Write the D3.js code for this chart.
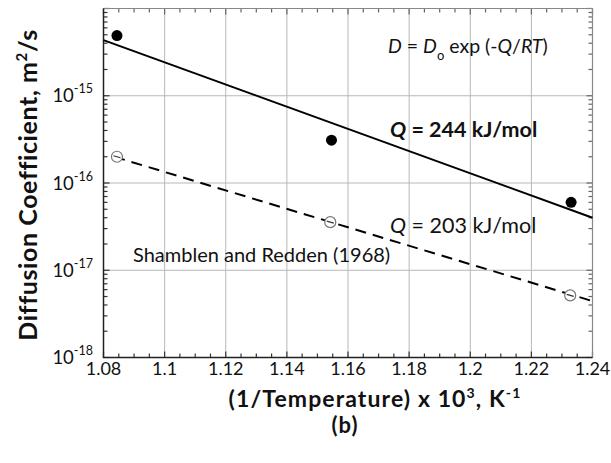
<!DOCTYPE html>
<html><head><meta charset="utf-8">
<script src="https://cdn.jsdelivr.net/npm/d3@7"></script>
<style>
body{margin:0;background:#fff;}
text{font-family:Lato,"Open Sans",sans-serif;fill:#111;}
</style></head>
<body><svg id="c" width="611" height="463"></svg>
<script>
// Data
const presentX = [1.0844, 1.1546, 1.2330];
const presentD = [4.9e-15, 3.1e-16, 6.0e-17];
const shamblenX = [1.0844, 1.1542, 1.2327];
const shamblenD = [2.0e-16, 3.56e-17, 5.15e-18];
const fitSolidX = [1.08, 1.24];
const fitSolidD = [4.34e-15, 4.0e-17];
const fitDashX = [1.0835, 1.24];
const fitDashD = [2.0e-16, 4.43e-18];
const xTicks = [1.08, 1.10, 1.12, 1.14, 1.16, 1.18, 1.20, 1.22, 1.24];
const xTickLabels = ["1.08","1.1","1.12","1.14","1.16","1.18","1.2","1.22","1.24"];
const yTicks = [1e-18, 1e-17, 1e-16, 1e-15, 1e-14];
const yTickExp = ["-18","-17","-16","-15"];

const svg = d3.select("#c");
const L=103.5, R=592.5, T=8.5, B=357.5;
const x = d3.scaleLinear().domain([1.08,1.24]).range([L,R]);
const y = d3.scaleLog().domain([1e-18,1e-14]).range([B,T]);

// grid
const g = svg.append("g");
g.selectAll(".gx").data(xTicks.slice(1,-1)).join("line")
  .attr("x1",d=>x(d)).attr("x2",d=>x(d)).attr("y1",T).attr("y2",B)
  .attr("stroke","#b8b8b8").attr("stroke-width",1);
g.selectAll(".gy").data(yTicks.slice(1,-1)).join("line")
  .attr("y1",d=>y(d)).attr("y2",d=>y(d)).attr("x1",L).attr("x2",R)
  .attr("stroke","#b8b8b8").attr("stroke-width",1);

// minor ticks
const xMinor = d3.range(0,33).map(i=>1.08+i*0.005);
const yMinor = [];
for (let e=-18;e<-14;e++) for (let m=2;m<=9;m++) yMinor.push(m*Math.pow(10,e));
function tickLine(sel, x1,y1,x2,y2,col){ sel.append("line").attr("x1",x1).attr("y1",y1).attr("x2",x2).attr("y2",y2).attr("stroke",col).attr("stroke-width",1.2);}
xMinor.forEach((v,i)=>{
  const len = (i%4===0)?6:4;
  tickLine(svg, x(v),B,x(v),B-len,"#333");
  tickLine(svg, x(v),T,x(v),T+len,"#666");
});
yMinor.forEach(v=>{
  tickLine(svg, L,y(v),L+4,y(v),"#333");
  tickLine(svg, R,y(v),R-4,y(v),"#666");
});
yTicks.forEach(v=>{
  tickLine(svg, L,y(v),L+6,y(v),"#333");
  tickLine(svg, R,y(v),R-6,y(v),"#666");
});

// frame
svg.append("line").attr("x1",L).attr("x2",R).attr("y1",T).attr("y2",T).attr("stroke","#888").attr("stroke-width",1.2);
svg.append("line").attr("x1",R).attr("x2",R).attr("y1",T).attr("y2",B).attr("stroke","#888").attr("stroke-width",1.2);
svg.append("line").attr("x1",L).attr("x2",L).attr("y1",T).attr("y2",B+0.6).attr("stroke","#222").attr("stroke-width",1.5);
svg.append("line").attr("x1",L-0.6).attr("x2",R).attr("y1",B).attr("y2",B).attr("stroke","#222").attr("stroke-width",1.5);

// lines
const line = d3.line().x(d=>x(d[0])).y(d=>y(d[1]));
svg.append("path").attr("d",line(fitSolidX.map((v,i)=>[v,fitSolidD[i]])))
  .attr("fill","none").attr("stroke","#000").attr("stroke-width",2);
svg.append("path").attr("d",line(fitDashX.map((v,i)=>[v,fitDashD[i]])))
  .attr("fill","none").attr("stroke","#000").attr("stroke-width",2).attr("stroke-dasharray","11,7");

// points
svg.selectAll(".pf").data(presentX).join("circle")
  .attr("cx",d=>x(d)).attr("cy",(d,i)=>y(presentD[i])).attr("r",5.5).attr("fill","#000");
svg.selectAll(".po").data(shamblenX).join("circle")
  .attr("cx",d=>x(d)).attr("cy",(d,i)=>y(shamblenD[i])).attr("r",5.5).attr("fill","#fff").attr("stroke","#777").attr("stroke-width",1.2);
svg.selectAll(".pc").data(shamblenX).join("line")
  .attr("x1",d=>x(d)-3.5).attr("x2",d=>x(d)+3.5)
  .attr("y1",(d,i)=>y(shamblenD[i])-1).attr("y2",(d,i)=>y(shamblenD[i])+1)
  .attr("stroke","#333").attr("stroke-width",1.2);

// x tick labels
svg.selectAll(".xl").data(xTicks).join("text")
  .attr("x",d=>x(d)).attr("y",375).attr("text-anchor","middle")
  .attr("font-size",18).text((d,i)=>xTickLabels[i]);

// y tick labels
yTicks.slice(0,4).forEach((v,i)=>{
  const t = svg.append("text").attr("x",93).attr("y",y(v)+6.5).attr("text-anchor","end").attr("font-size",18.5);
  t.append("tspan").text("10");
  t.append("tspan").attr("font-size",12.5).attr("dy",-9).text(yTickExp[i]);
});

// axis titles
const xt = svg.append("text").attr("x",375).attr("y",407).attr("text-anchor","middle").attr("font-size",23).attr("font-weight","bold").attr("letter-spacing",1.1);
xt.append("tspan").text("(1/Temperature) x 10");
xt.append("tspan").attr("font-size",14).attr("dy",-9).text("3");
xt.append("tspan").attr("dy",9).text(", K");
xt.append("tspan").attr("font-size",14).attr("dy",-9).text("-1");
svg.append("text").attr("x",345).attr("y",433).attr("text-anchor","middle").attr("font-size",22).attr("font-weight","bold").attr("letter-spacing",1).text("(b)");

const yt = svg.append("text").attr("transform","translate(37,185) rotate(-90)").attr("text-anchor","middle").attr("font-size",25).attr("font-weight","bold").attr("letter-spacing",0.6);
yt.append("tspan").text("Diffusion Coefficient, m");
yt.append("tspan").attr("font-size",15).attr("dy",-10).text("2");
yt.append("tspan").attr("dy",10).text("/s");

// annotations
const eq = svg.append("text").attr("x",388).attr("y",53).attr("font-size",19.5);
eq.append("tspan").attr("font-style","italic").text("D");
eq.append("tspan").text(" = ");
eq.append("tspan").attr("font-style","italic").text("D");
eq.append("tspan").attr("font-size",13).attr("dy",7).text("o");
eq.append("tspan").attr("dy",-7).text(" exp (-");
eq.append("tspan").attr("font-style","italic").text("Q");
eq.append("tspan").text("/");
eq.append("tspan").attr("font-style","italic").text("RT");
eq.append("tspan").text(")");

const q1 = svg.append("text").attr("x",390).attr("y",137).attr("font-size",21.5).attr("font-weight","bold");
q1.append("tspan").attr("font-style","italic").text("Q");
q1.append("tspan").text(" = 244 kJ/mol");

const q2 = svg.append("text").attr("x",390).attr("y",233).attr("font-size",21.5);
q2.append("tspan").attr("font-style","italic").text("Q");
q2.append("tspan").text(" = 203 kJ/mol");

svg.append("text").attr("x",133).attr("y",262).attr("font-size",20).text("Shamblen and Redden (1968)");
</script></body></html>
